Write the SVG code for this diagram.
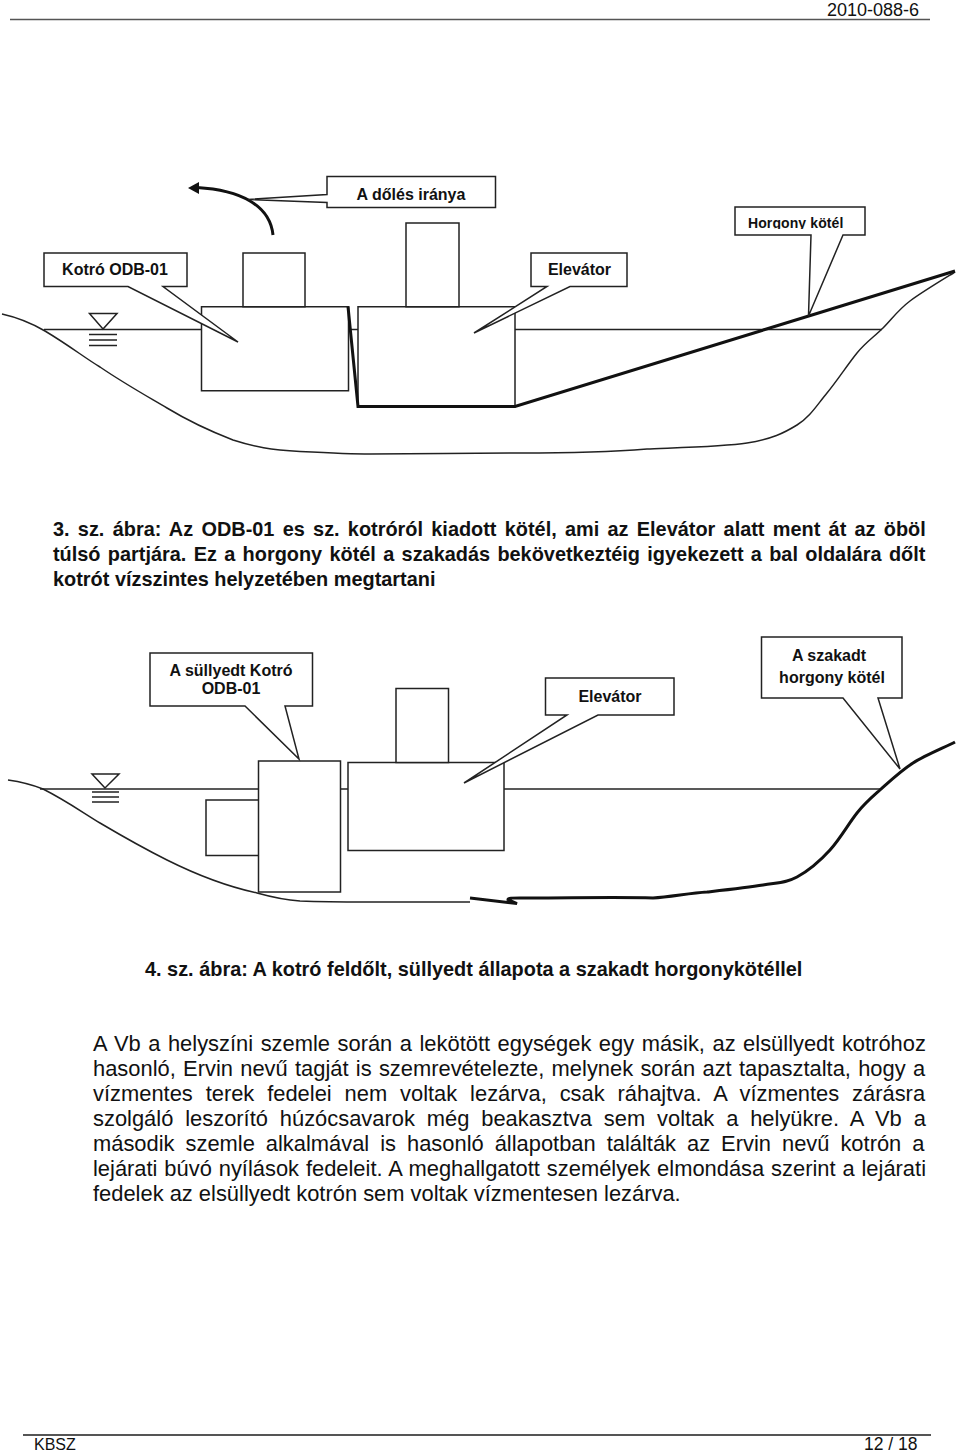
<svg xmlns="http://www.w3.org/2000/svg" width="960" height="1453" viewBox="0 0 960 1453">
<defs><clipPath id="rc"><rect x="736" y="208" width="128" height="21"/></clipPath></defs>
<style>
text{font-family:"Liberation Sans",Arial,sans-serif;fill:#111}
.b{font-weight:bold;font-size:19.9px}
.l{font-size:16px;font-weight:bold;text-anchor:middle}
.p{font-size:21.9px}
.s{fill:#fff;stroke:#222;stroke-width:1.5}
.n{fill:none;stroke:#222;stroke-width:1.5}
.t{fill:none;stroke:#111;stroke-width:3}
</style>
<rect width="960" height="1453" fill="#fff"/>
<text x="827" y="16" style="font-size:18px">2010-088-6</text>
<line x1="10" y1="19.500" x2="930" y2="19.500" stroke="#555" stroke-width="1.500"/>
<g id="figure3">
<path class="n" d="M2 314C20 318 33 324 45 331C70 346 85 358 100 367C125 384 145 395 167 408C195 425 215 433 233 440C255 447 270 450 300 451.500C330 453 350 454 370 454C420 454 470 453 520 453C570 453 610 452 647 449C664 448 722 447 747 443C772 439 784 433 797 425C810 417 817 405 827 393C837 381 848 364 857 353C866 342 874 337 883 328C892 319 898 310 910 301C922 292 947 277 955 272"/>
<path class="n" d="M44 329.500H882"/>
<path class="n" d="M103 329L89.500 313.500H117ZM89 334.500H117M89 340H117M89 345.500H117"/>
<rect id="kotro1" class="s" x="201.500" y="306.750" width="147" height="84"/>
<rect class="s" x="243" y="253" width="62" height="53.750"/>
<rect id="elevator1" class="s" x="358" y="306.750" width="157" height="100"/>
<rect class="s" x="406" y="223" width="53" height="83.750"/>
<path class="t" d="M348 306.500L358 406.500H515L955 271"/>
<path fill="none" stroke="#111" stroke-width="3" d="M273 235C270 205 240 190 197 187.500"/>
<path fill="#111" d="M188 188L199 182V194Z"/>
</g>
<g id="callout-dir"><path class="s" d="M327 176.500H495.500V207.500H327V202.500L248 199.500L327 194.500Z"/><text class="l" x="411" y="199.500">A dőlés iránya</text></g>
<g id="callout-kotro"><path class="s" d="M44 253H187V286.500H163L238 342L128 286.500H44Z"/><text class="l" x="115" y="275">Kotró ODB-01</text></g>
<g id="callout-elev"><path class="s" d="M531 253H627V286.500H570L474 333L547 286.500H531Z"/><text class="l" x="579.500" y="275">Elevátor</text></g>
<g id="callout-rope"><path class="s" d="M735 207H865V235H843L808.500 316L811 235H735Z"/><text x="748" y="228" clip-path="url(#rc)" style="font-size:14px;font-weight:bold;letter-spacing:.1px">Horgony kötél</text></g>
<text x="53" y="536" class="b" style="word-spacing:2.750px">3. sz. ábra: Az ODB-01 es sz. kotróról kiadott kötél, ami az Elevátor alatt ment át az öböl</text>
<text x="53" y="561" class="b" style="word-spacing:1.800px">túlsó partjára. Ez a horgony kötél a szakadás bekövetkeztéig igyekezett a bal oldalára dőlt</text>
<text x="53" y="586" class="b">kotrót vízszintes helyzetében megtartani</text>
<g id="figure4">
<path class="n" d="M8 780C22 782 33 785 43 789C65 800 82 812 100 823C122 836 145 849 167 860C195 874 225 886 257 893C275 898 285 900 300 901C325 902 345 902 367 902L470 902"/>
<path class="n" d="M40 789H882"/>
<path class="n" d="M105 788L92 774H119ZM92 792H119M92 797H119M92 802H119"/>
<rect class="s" x="206" y="800" width="53" height="55.500"/>
<rect class="s" x="348" y="762.500" width="156" height="88"/>
<rect class="s" x="396" y="688.500" width="52.500" height="74"/>
<rect id="kotro2" class="s" x="258.500" y="761" width="82" height="131"/>
<path d="M470 898L517 903.500L508 899.500C508 898 512 898 520 898C570 898 620 897 653 898C670 897 690 893 707 892C725 890 748 887.500 763 885C778 882.500 786 883 797 877C808 871 820 861 830 850C840 839 849 823 857 813C865 803 871 798 880 790C889 782 900.500 771 913 763C925.500 755 948 746 955 742" fill="none" stroke="#111" stroke-width="3"/>
</g>
<g id="callout-sunk"><path class="s" d="M150 653H312.500V706H285L299 759L245 706H150Z"/><text class="l" x="231" y="676">A süllyedt Kotró</text><text class="l" x="231" y="694">ODB-01</text></g>
<g id="callout-elev2"><path class="s" d="M545.500 678H674V715H598L464 783L567 715H545.500Z"/><text class="l" x="610" y="702">Elevátor</text></g>
<g id="callout-broken"><path class="s" d="M761.500 637H902V698H878L900 769L843 698H761.500Z"/><text class="l" x="829" y="661">A szakadt</text><text class="l" x="832" y="683">horgony kötél</text></g>
<text x="145" y="976" class="b">4. sz. ábra: A kotró feldőlt, süllyedt állapota a szakadt horgonykötéllel</text>
<text class="p" x="93" y="1051" style="word-spacing:1.450px">A Vb a helyszíni szemle során a lekötött egységek egy másik, az elsüllyedt kotróhoz</text>
<text class="p" x="93" y="1076" style="word-spacing:1.200px">hasonló, Ervin nevű tagját is szemrevételezte, melynek során azt tapasztalta, hogy a</text>
<text class="p" x="93" y="1101" style="word-spacing:6.800px">vízmentes terek fedelei nem voltak lezárva, csak ráhajtva. A vízmentes zárásra</text>
<text class="p" x="93" y="1126" style="word-spacing:5.800px">szolgáló leszorító húzócsavarok még beakasztva sem voltak a helyükre. A Vb a</text>
<text class="p" x="93" y="1151" style="word-spacing:4.900px">második szemle alkalmával is hasonló állapotban találták az Ervin nevű kotrón a</text>
<text class="p" x="93" y="1176" style="word-spacing:.8px">lejárati búvó nyílások fedeleit. A meghallgatott személyek elmondása szerint a lejárati</text>
<text class="p" x="93" y="1201">fedelek az elsüllyedt kotrón sem voltak vízmentesen lezárva.</text>
<line x1="23" y1="1435" x2="931" y2="1435" stroke="#555" stroke-width="2"/>
<text x="34" y="1450" style="font-size:16px">KBSZ</text>
<text x="864" y="1450" style="font-size:17.500px">12 / 18</text>
</svg>
